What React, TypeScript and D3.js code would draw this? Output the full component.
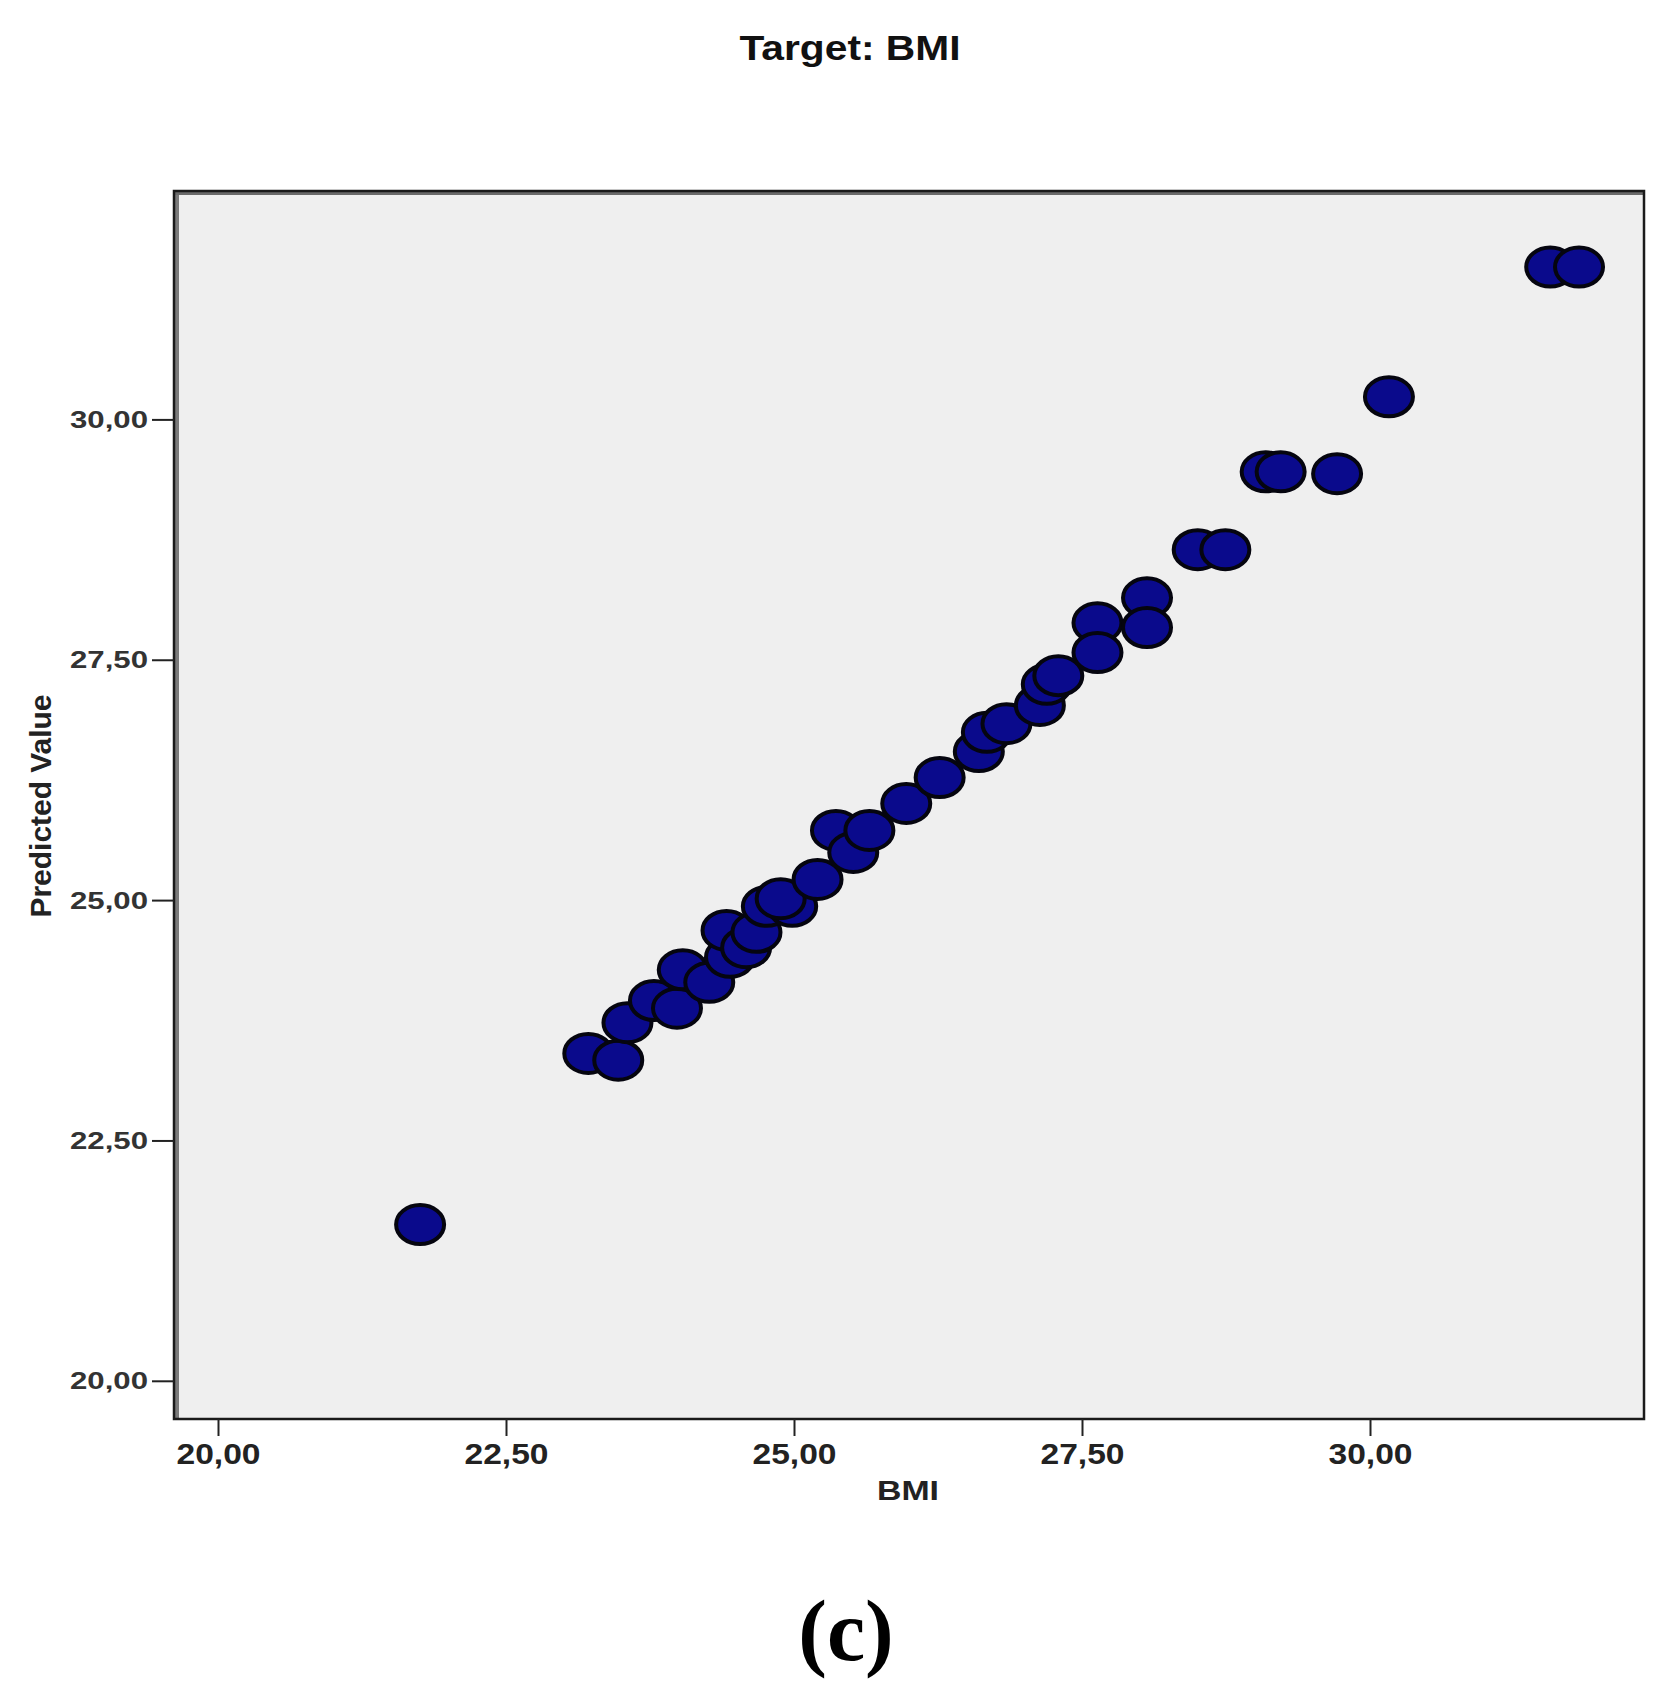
import React from "react";
import * as d3 from "d3";

const bmi = [21.75, 23.21, 23.47, 23.55, 23.78, 23.98, 24.03, 24.26, 24.44, 24.41, 24.58, 24.67, 24.76, 24.98, 24.88, 25.2, 25.36, 25.51, 25.65, 25.97, 26.26, 26.6, 26.67, 26.84, 27.13, 27.19, 27.29, 27.63, 27.63, 28.06, 28.06, 28.5, 28.74, 29.09, 29.22, 29.71, 30.16, 31.56, 31.81];
const predicted = [21.63, 23.41, 23.34, 23.73, 23.96, 23.88, 24.28, 24.15, 24.41, 24.69, 24.51, 24.67, 24.94, 24.94, 25.02, 25.22, 25.73, 25.5, 25.73, 26.01, 26.28, 26.55, 26.75, 26.84, 27.03, 27.25, 27.34, 27.89, 27.58, 28.15, 27.84, 28.65, 28.65, 29.46, 29.46, 29.44, 30.24, 31.59, 31.59];
const tickValues = [20, 22.5, 25, 27.5, 30];
const tickLabels = ["20,00", "22,50", "25,00", "27,50", "30,00"];

const W = 1673;
const H = 1688;
const frame = { left: 174, right: 1644, top: 191, bottom: 1419 };

export default function App() {
  const x = d3.scaleLinear().domain([20, 30]).range([218.5, 1370.5]);
  const y = d3.scaleLinear().domain([20, 30]).range([1381.3, 419.9]);
  const pts = bmi.map((b, i) => ({ b, p: predicted[i] }));
  const font = "'Liberation Sans', Arial, sans-serif";
  const narrow = "'Liberation Sans Narrow', 'Arial Narrow', 'Liberation Sans', sans-serif";
  return (
    <div style={{ position: "absolute", left: 0, top: 0 }}>
      <svg width={W} height={H} style={{ display: "block", background: "#fff" }}>
        <text x={850} y={60} textAnchor="middle" fontFamily={narrow} fontWeight="bold" fontSize={35} textLength={221} lengthAdjust="spacingAndGlyphs" fill="#111">Target: BMI</text>
        <rect x={frame.left} y={frame.top} width={frame.right - frame.left} height={frame.bottom - frame.top} fill="#efefef" />
        {pts.map((d, i) => (
          <ellipse key={i} cx={x(d.b)} cy={y(d.p)} rx={24} ry={19.5} fill="#0a0a8c" stroke="#05050f" strokeWidth={4} />
        ))}
        <line x1={frame.left + 3} x2={frame.left + 3} y1={frame.top} y2={frame.bottom} stroke="#7a7a7a" strokeWidth={4} />
        <line x1={frame.left} x2={frame.right} y1={frame.top + 2.5} y2={frame.top + 2.5} stroke="#6a6a6a" strokeWidth={3} />
        <rect x={frame.left} y={frame.top} width={frame.right - frame.left} height={frame.bottom - frame.top} fill="none" stroke="#1a1a1a" strokeWidth={2.5} />
        {tickValues.map((v, i) => (
          <g key={"y" + i}>
            <line x1={152} x2={frame.left} y1={y(v)} y2={y(v)} stroke="#222" strokeWidth={2} />
            <text x={148} y={y(v) + 8} textAnchor="end" fontFamily={font} fontWeight="bold" fontSize={23} textLength={78} lengthAdjust="spacingAndGlyphs" fill="#333">{tickLabels[i]}</text>
          </g>
        ))}
        {tickValues.map((v, i) => (
          <g key={"x" + i}>
            <line x1={x(v)} x2={x(v)} y1={frame.bottom} y2={frame.bottom + 17} stroke="#222" strokeWidth={2} />
            <text x={x(v)} y={1464} textAnchor="middle" fontFamily={narrow} fontWeight="bold" fontSize={29} textLength={84} lengthAdjust="spacingAndGlyphs" fill="#222">{tickLabels[i]}</text>
          </g>
        ))}
        <text x={908} y={1500} textAnchor="middle" fontFamily={narrow} fontWeight="bold" fontSize={28} textLength={62} lengthAdjust="spacingAndGlyphs" fill="#222">BMI</text>
        <text transform={`translate(51, 806) rotate(-90)`} textAnchor="middle" fontFamily={narrow} fontWeight="bold" fontSize={29} textLength={223} lengthAdjust="spacingAndGlyphs" fill="#222">Predicted Value</text>
        <text x={846} y={1660} textAnchor="middle" fontFamily="'Liberation Serif', 'Times New Roman', serif" fontWeight="bold" fontSize={86} fill="#000">(c)</text>
      </svg>
    </div>
  );
}
